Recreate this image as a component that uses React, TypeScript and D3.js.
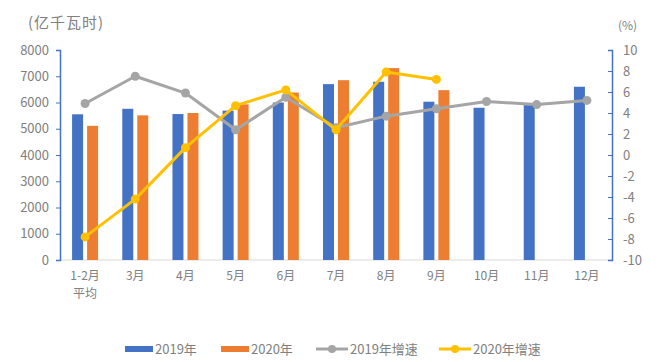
import { useEffect, useRef } from 'react'
import * as d3 from 'd3'

const months = ['1-2月|平均', '3月', '4月', '5月', '6月', '7月', '8月', '9月', '10月', '11月', '12月']
const gen2019 = [5550, 5760, 5560, 5690, 6000, 6700, 6790, 6030, 5800, 5900, 6600]
const gen2020 = [5110, 5510, 5600, 5930, 6380, 6850, 7310, 6470]
const growth2019 = [4.9, 7.5, 5.9, 2.4, 5.5, 2.6, 3.7, 4.4, 5.1, 4.8, 5.2]
const growth2020 = [-7.8, -4.2, 0.7, 4.7, 6.2, 2.4, 7.9, 7.2]
const leftTicks = [0, 1000, 2000, 3000, 4000, 5000, 6000, 7000, 8000]
const rightTicks = [-10, -8, -6, -4, -2, 0, 2, 4, 6, 8, 10]

const BLUE = '#4472C4'
const ORANGE = '#ED7D31'
const GRAY = '#A5A5A5'
const YELLOW = '#FFC000'
const TEXT = '#808080'
const FONT = '"Noto Sans CJK SC", "Noto Sans", sans-serif'

export default function App() {
  const svgRef = useRef<SVGSVGElement>(null)

  useEffect(() => {
    if (!svgRef.current) return
    const svg = d3.select(svgRef.current)
    svg.selectAll('*').remove()

    const left = 60
    const right = 612
    const top = 50
    const bottom = 260

    const x = d3.scaleBand<string>().domain(months).range([left, right])
    const xSub = d3.scaleBand<string>().domain(['2019', '2020']).range([0, 26]).paddingInner(4 / 15)
    const yL = d3.scaleLinear().domain([0, 8000]).range([bottom, top])
    const yR = d3.scaleLinear().domain([-10, 10]).range([bottom, top])
    const cx = (i: number) => x(months[i])! + x.bandwidth() / 2

    // baseline
    svg.append('line')
      .attr('x1', left).attr('x2', right)
      .attr('y1', bottom).attr('y2', bottom)
      .attr('stroke', '#d9d9d9').attr('stroke-width', 1)

    // bars
    const drawBars = (vals: number[], key: string, color: string) => {
      svg.append('g')
        .selectAll('rect')
        .data(vals)
        .join('rect')
        .attr('x', (d, i) => cx(i) - 13 + xSub(key)!)
        .attr('width', xSub.bandwidth())
        .attr('y', d => yL(d))
        .attr('height', d => bottom - yL(d))
        .attr('fill', color)
    }
    drawBars(gen2019, '2019', BLUE)
    drawBars(gen2020, '2020', ORANGE)

    // lines
    const drawLine = (vals: number[], color: string) => {
      const line = d3.line<number>().x((d, i) => cx(i)).y(d => yR(d))
      svg.append('path')
        .attr('d', line(vals))
        .attr('fill', 'none')
        .attr('stroke', color)
        .attr('stroke-width', 3)
        .attr('stroke-linejoin', 'round')
      svg.append('g')
        .selectAll('circle')
        .data(vals)
        .join('circle')
        .attr('cx', (d, i) => cx(i))
        .attr('cy', d => yR(d))
        .attr('r', 4.5)
        .attr('fill', color)
    }
    drawLine(growth2019, GRAY)
    drawLine(growth2020, YELLOW)

    // left axis
    const gl = svg.append('g')
      .attr('transform', `translate(${left},0)`)
      .call(d3.axisLeft(yL).tickValues(leftTicks).tickSize(4).tickPadding(7).tickFormat(d => String(d)))
    gl.select('.domain').attr('stroke', BLUE).attr('stroke-width', 1.5)
    gl.selectAll('.tick line').attr('stroke', BLUE)
    gl.selectAll('text')
      .attr('fill', TEXT)
      .style('font-family', FONT)
      .style('font-size', '13px')

    // right axis (ticks point inward)
    const gr = svg.append('g')
      .attr('transform', `translate(${right},0)`)
      .call(d3.axisRight(yR).tickValues(rightTicks).tickSize(-4).tickPadding(11).tickFormat(d => String(d)))
    gr.select('.domain').attr('stroke', BLUE).attr('stroke-width', 1.5)
    gr.selectAll('.tick line').attr('stroke', BLUE)
    gr.selectAll('text')
      .attr('fill', TEXT)
      .style('font-family', FONT)
      .style('font-size', '13px')

    // x labels
    months.forEach((m, i) => {
      m.split('|').forEach((part, j) => {
        svg.append('text')
          .attr('x', cx(i))
          .attr('y', 280 + j * 18)
          .attr('text-anchor', 'middle')
          .attr('fill', TEXT)
          .style('font-family', FONT)
          .style('font-size', '12px')
          .text(part)
      })
    })

    // unit labels
    svg.append('text')
      .attr('x', 28).attr('y', 28)
      .attr('fill', TEXT)
      .style('font-family', FONT)
      .style('font-size', '15px')
      .style('letter-spacing', '1px')
      .text('(亿千瓦时)')
    svg.append('text')
      .attr('x', 618).attr('y', 30)
      .attr('fill', TEXT)
      .style('font-family', FONT)
      .style('font-size', '12px')
      .text('(%)')

    // legend
    const ly = 349
    const legend = [
      { label: '2019年', color: BLUE, type: 'bar', x: 125 },
      { label: '2020年', color: ORANGE, type: 'bar', x: 221 },
      { label: '2019年增速', color: GRAY, type: 'line', x: 316 },
      { label: '2020年增速', color: YELLOW, type: 'line', x: 439 },
    ]
    legend.forEach(l => {
      if (l.type === 'bar') {
        svg.append('rect')
          .attr('x', l.x).attr('y', ly - 3)
          .attr('width', 28).attr('height', 6)
          .attr('fill', l.color)
      } else {
        svg.append('line')
          .attr('x1', l.x).attr('x2', l.x + 32)
          .attr('y1', ly).attr('y2', ly)
          .attr('stroke', l.color).attr('stroke-width', 3)
        svg.append('circle')
          .attr('cx', l.x + 16).attr('cy', ly).attr('r', 4)
          .attr('fill', l.color)
      }
      svg.append('text')
        .attr('x', l.x + (l.type === 'bar' ? 30 : 34))
        .attr('y', ly + 5)
        .attr('fill', TEXT)
        .style('font-family', FONT)
        .style('font-size', '13px')
        .text(l.label)
    })
  }, [])

  return (
    <svg
      ref={svgRef}
      width={668}
      height={362}
      style={{ display: 'block', position: 'absolute', left: 0, top: 0, background: '#fff' }}
    />
  )
}
